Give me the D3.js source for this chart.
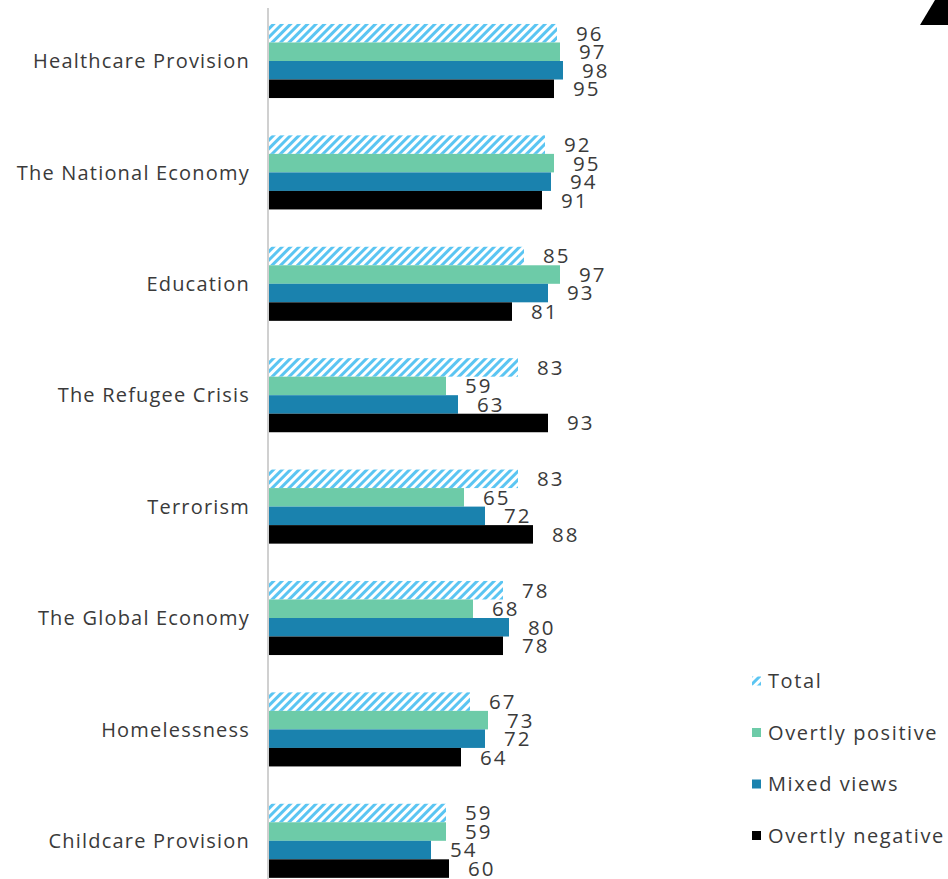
<!DOCTYPE html>
<html><head><meta charset="utf-8">
<script src="https://cdn.jsdelivr.net/npm/d3@7"></script>
<style>body{margin:0;background:#fff}svg{display:block}text{font-family:"Open Sans",sans-serif;fill:#3a3a3a}</style>
</head><body><svg id="c" width="948" height="879"></svg>
<script>
const categories = ["Healthcare Provision","The National Economy","Education","The Refugee Crisis","Terrorism","The Global Economy","Homelessness","Childcare Provision"];
const seriesNames = ["Total","Overtly positive","Mixed views","Overtly negative"];
const total    = [96,92,85,83,83,78,67,59];
const positive = [97,95,97,59,65,68,73,59];
const mixed    = [98,94,93,63,72,80,72,54];
const negative = [95,91,81,93,88,78,64,60];
const seriesValues = [total, positive, mixed, negative];
const colors = ["url(#hatch)","#6DCBA8","#1A82AE","#000000"];

const svg = d3.select("#c");
const defs = svg.append("defs");
const pat = defs.append("pattern").attr("id","hatch").attr("patternUnits","userSpaceOnUse")
  .attr("width",6).attr("height",6).attr("patternTransform","rotate(45)");
pat.append("rect").attr("width",6).attr("height",6).attr("fill","#fff");
pat.append("rect").attr("width",3).attr("height",6).attr("fill","#5BC5F2");

const x = d3.scaleLinear().domain([0,100]).range([269,569]);
const y = d3.scaleBand().domain(categories).range([5.3,896.5]).paddingInner(0.335).paddingOuter(0.1675);
const ys = d3.scaleBand().domain(seriesNames).range([0,y.bandwidth()]);

const g = svg.append("g");
categories.forEach((c,i)=>{
  const gg = g.append("g").attr("transform",`translate(0,${y(c)})`);
  seriesNames.forEach((s,j)=>{
    const v = seriesValues[j][i];
    gg.append("rect").attr("x",x(0)).attr("y",ys(s)).attr("width",x(v)-x(0)).attr("height",ys.bandwidth()).attr("fill",colors[j]);
    gg.append("text").attr("x",x(v)+19).attr("y",ys(s)+ys.bandwidth()/2).attr("dy","0.36em")
      .attr("font-size",20.5).attr("letter-spacing","2px").text(v);
  });
  g.append("text").attr("x",250).attr("y",y(c)+y.bandwidth()/2).attr("dy","0.36em")
    .attr("text-anchor","end").attr("font-size",20).attr("letter-spacing","1.2px").text(c);
});

svg.append("line").attr("x1",268).attr("x2",268).attr("y1",8).attr("y2",879).attr("stroke","#d0d0d0").attr("stroke-width",2);

const leg = svg.append("g");
seriesNames.forEach((s,j)=>{
  const ly = 681 + j*51.5;
  leg.append("rect").attr("x",752).attr("y",ly-4.5).attr("width",9).attr("height",9).attr("fill",colors[j]);
  leg.append("text").attr("x",768).attr("y",ly).attr("dy","0.36em").attr("font-size",20).attr("letter-spacing","1.6px").text(s);
});

svg.append("polygon").attr("points","935,0 948,0 948,25 920,25").attr("fill","#000");
</script></body></html>
